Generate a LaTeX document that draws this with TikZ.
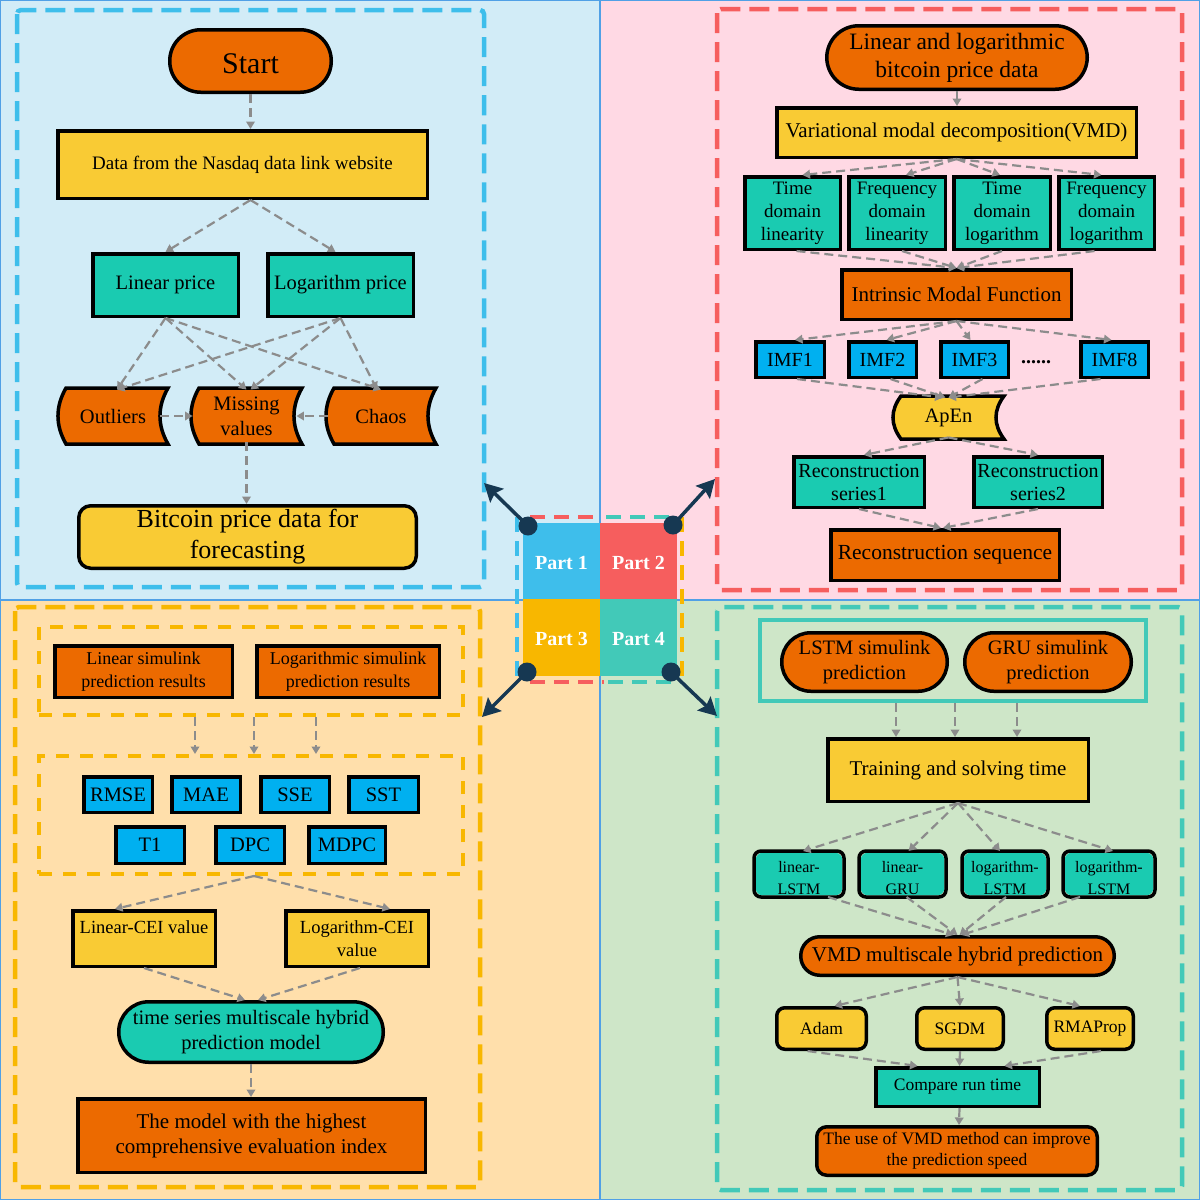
\documentclass[tikz,border=0pt]{standalone}
\usepackage{fontspec}
\setmainfont{Liberation Serif}
\usetikzlibrary{arrows.meta,calc}
\definecolor{bgA}{RGB}{210,236,247}
\definecolor{bgB}{RGB}{255,217,228}
\definecolor{bgC}{RGB}{255,223,171}
\definecolor{bgD}{RGB}{206,230,200}
\definecolor{dA}{RGB}{62,190,235}
\definecolor{dB}{RGB}{246,94,94}
\definecolor{dC}{RGB}{248,183,0}
\definecolor{dD}{RGB}{66,201,184}
\definecolor{cOr}{RGB}{236,106,0}
\definecolor{cYe}{RGB}{249,203,52}
\definecolor{cTe}{RGB}{26,203,177}
\definecolor{cBl}{RGB}{0,176,240}
\definecolor{cGr}{RGB}{140,140,140}
\definecolor{cNv}{RGB}{22,56,82}
\definecolor{cLn}{RGB}{80,160,230}
\newcommand{\fsz}[2]{\fontsize{#1}{#2}\selectfont}
\tikzset{
 bx/.style={draw=black, line width=3.5pt, inner sep=0pt, align=center},
 fO/.style={fill=cOr}, fY/.style={fill=cYe}, fT/.style={fill=cTe}, fB/.style={fill=cBl},
 arr/.style={draw=cGr, line width=2.2pt, dash pattern=on 9pt off 5pt, -{Triangle[width=8.5pt,length=7.5pt]}},
 oframe/.style={line width=4.5pt, dash pattern=on 20pt off 9pt, rounded corners=4pt},
 iframe/.style={draw=dC, line width=4pt, dash pattern=on 13pt off 11pt, inner sep=0pt},
 cframe/.style={line width=4pt, dash pattern=on 15pt off 9pt},
 navy/.style={draw=cNv, line width=3.5pt, -{Stealth[width=19pt,length=18pt,inset=3pt]}},
 dot/.style={circle, fill=cNv, minimum size=19pt, inner sep=0pt},
 part/.style={minimum size=77pt, inner sep=0pt, text=white, font=\bfseries\fsz{20}{24}, text height=17pt},
}
\newcommand{\mkbox}[7][]{\node[bx,#1,minimum width={(#5-#3-3.5)*1pt},minimum height={(#6-#4-3.5)*1pt}] (#2) at ({(#3+#5)/2},{(#4+#6)/2}) {#7};}
\newcommand{\mkstore}[7]{%
 \filldraw[draw=black,line width=3.5pt,fill=#1] (#3+8,#4) -- (#5,#4)
   .. controls (#5-10.7,{#4+(#6-#4)/3}) and (#5-10.7,{#4+2*(#6-#4)/3}) .. (#5,#6) -- (#3+8,#6)
   .. controls (#3-2.7,{#4+2*(#6-#4)/3}) and (#3-2.7,{#4+(#6-#4)/3}) .. (#3+8,#4) -- cycle;
 \node[inner sep=0pt,align=center,font=\fsz{20.5}{25},minimum width={(#5-#3-3.5)*1pt},minimum height={(#6-#4-3.5)*1pt}] (#2) at ({(#3+#5)/2},{(#4+#6)/2}) {#7};}
\begin{document}
\begin{tikzpicture}[x=1pt,y=-1pt]
\useasboundingbox (0,0) rectangle (1200,1200);
% backgrounds
\fill[bgA] (0,0) rectangle (600,600);
\fill[bgB] (600,0) rectangle (1200,600);
\fill[bgC] (0,600) rectangle (600,1200);
\fill[bgD] (600,600) rectangle (1200,1200);
\draw[cLn,line width=1.2pt] (0.6,0.6) rectangle (1199.4,1199.4);
\draw[cLn,line width=1.2pt] (600,0) -- (600,1200);
\draw[cLn,line width=1.2pt] (0,600) -- (1200,600);
% outer frames
\draw[oframe,draw=dA] (17,10) rectangle (484,587);
\draw[oframe,draw=dB] (717,9) rectangle (1182,590);
\draw[oframe,draw=dC] (15,607) rectangle (480,1187);
\draw[oframe,draw=dD] (717,607) rectangle (1182,1190);
% centre
\draw[cframe,dB] (530,517) -- (600,517);
\draw[cframe,dD] (606,517) -- (673,517);
\draw[cframe,dA] (517,517) -- (517,684);
\draw[cframe,dC] (682,517) -- (682,684);
\draw[cframe,dB] (530,682) -- (604,682);
\draw[cframe,dD] (608,682) -- (673,682);
\node[part,fill=dA] (p1) at (561.5,561.5) {Part 1};
\node[part,fill=dB] (p2) at (638.5,561.5) {Part 2};
\node[part,fill=dC] (p3) at (561.5,637.5) {Part 3};
\node[part,fill=dD] (p4) at (638.5,637.5) {Part 4};
\node[dot] (o1) at (528,526) {};
\node[dot] (o2) at (673,525) {};
\node[dot] (o3) at (527,672) {};
\node[dot] (o4) at (671,672) {};
\coordinate (t1) at (484,483);
\coordinate (t2) at (715,479);
\coordinate (t3) at (482,717);
\coordinate (t4) at (717,716);
\draw[navy] (o1.center) -- (t1);
\draw[navy] (o2.center) -- (t2);
\draw[navy] (o3.center) -- (t3);
\draw[navy] (o4.center) -- (t4);
% ---------- Part 1
\mkbox[fO,rounded corners=31pt,font=\fsz{30}{34},text height=26pt]{start}{168}{28}{333}{94}{Start}
\mkbox[fY,font=\fsz{19}{22}]{data}{56}{129}{429}{200}{Data from the Nasdaq data link website}
\mkbox[fT,font=\fsz{20.5}{24}]{lin}{91}{252}{240}{318}{Linear price}
\mkbox[fT,font=\fsz{20.5}{24}]{log}{266}{252}{415}{318}{Logarithm price}
\mkstore{cOr}{out}{58}{388}{168}{444}{Outliers}
\mkstore{cOr}{mis}{191}{388}{302}{444}{Missing\\values}
\mkstore{cOr}{cha}{326}{388}{436}{444}{Chaos}
\mkbox[fY,rounded corners=12pt,font=\fsz{26}{31}]{btc}{77}{504}{418}{570}{Bitcoin price data for\\forecasting}
\draw[arr] (start.south) -- (start.south |- data.north);
\draw[arr] ($(data.south)+(8,0)$) -- (lin.north);
\draw[arr] ($(data.south)+(8,0)$) -- ($(log.north)+(-5,0)$);
\draw[arr] (lin.south) -- ($(out.north)+(4,0)$);
\draw[arr] (lin.south) -- (mis.north);
\draw[arr] (lin.south) -- (cha.north);
\draw[arr] (log.south) -- ($(out.north)+(4,0)$);
\draw[arr] (log.south) -- ($(mis.north)+(4,0)$);
\draw[arr] (log.south) -- ($(cha.north)+(-4,0)$);
\draw[arr] ($(out.east)+(-6,0)$) -- (mis.west);
\draw[arr] (cha.west) -- ($(mis.east)+(-4,0)$);
\draw[arr] (mis.south) -- (mis.south |- btc.north);
% ---------- Part 2
\mkbox[fO,rounded corners=32pt,font=\fsz{23.5}{28}]{lld}{825}{24}{1089}{91}{Linear and logarithmic\\bitcoin price data}
\mkbox[fY,font=\fsz{21}{24}]{vmd}{775}{106}{1138}{159}{Variational modal decomposition(VMD)}
\mkbox[fT,font=\fsz{19}{23}]{td1}{743}{175}{842}{251}{Time\\domain\\linearity}
\mkbox[fT,font=\fsz{19}{23}]{fd1}{847}{175}{947}{251}{Frequency\\domain\\linearity}
\mkbox[fT,font=\fsz{19}{23}]{td2}{952}{175}{1052}{251}{Time\\domain\\logarithm}
\mkbox[fT,font=\fsz{19}{23}]{fd2}{1057}{175}{1156}{251}{Frequency\\domain\\logarithm}
\mkbox[fO,font=\fsz{21}{24}]{imf}{840}{268}{1073}{321}{Intrinsic Modal Function}
\mkbox[fB,font=\fsz{20}{24}]{imf1}{754}{340}{826}{379}{IMF1}
\mkbox[fB,font=\fsz{20}{24}]{imf2}{847}{340}{918}{379}{IMF2}
\mkbox[fB,font=\fsz{20}{24}]{imf3}{939}{340}{1010}{379}{IMF3}
\mkbox[fB,font=\fsz{20}{24}]{imf8}{1079}{340}{1150}{379}{IMF8}
\node[font=\bfseries\fsz{20}{24},inner sep=0pt] (dots) at (1036,362) {......};
\mkstore{cYe}{apen}{893}{396}{1004}{439}{ApEn}
\mkbox[fT,font=\fsz{20}{23}]{rs1}{792}{455}{926}{509}{Reconstruction\\series1}
\mkbox[fT,font=\fsz{20}{23}]{rs2}{972}{455}{1104}{509}{Reconstruction\\series2}
\mkbox[fO,font=\fsz{21.5}{24}]{rseq}{829}{528}{1061}{582}{Reconstruction sequence}
\draw[arr] (lld.south) -- (lld.south |- vmd.north);
\draw[arr] (vmd.south) -- ($(td1.north)+(10,0)$);
\draw[arr] (vmd.south) -- ($(fd1.north)+(9,0)$);
\draw[arr] (vmd.south) -- ($(td2.north)+(-2,0)$);
\draw[arr] (vmd.south) -- ($(fd2.north)+(-5,0)$);
\draw[arr] ($(td1.south)+(4,0)$) -- (imf.north);
\draw[arr] ($(fd1.south)+(5,0)$) -- (imf.north);
\draw[arr] (td2.south) -- (imf.north);
\draw[arr] ($(fd2.south)+(-12,0)$) -- (imf.north);
\draw[arr] (imf.south) -- ($(imf1.north)+(5,0)$);
\draw[arr] (imf.south) -- ($(imf2.north)+(4,0)$);
\draw[arr] (imf.south) -- ($(imf3.north)+(-4,0)$);
\draw[arr] (imf.south) -- ($(imf8.north)+(-3,0)$);
\draw[arr] ($(imf1.south)+(7,0)$) -- ($(apen.north)+(-6,0)$);
\draw[arr] ($(imf2.south)+(8,0)$) -- ($(apen.north)+(-3,0)$);
\draw[arr] ($(imf3.south)+(8,0)$) -- (apen.north);
\draw[arr] ($(imf8.south)+(-14,0)$) -- (apen.north);
\draw[arr] (apen.south) -- ($(rs1.north)+(5,0)$);
\draw[arr] (apen.south) -- (rs2.north);
\draw[arr] (rs1.south) -- ($(rseq.north)+(-4,0)$);
\draw[arr] (rs2.south) -- ($(rseq.north)+(-2,0)$);
% ---------- Part 3
\node[iframe,minimum width=424pt,minimum height=88pt] (g1) at (251,671) {};
\node[iframe,minimum width=424pt,minimum height=118pt] (g2) at (251,815) {};
\mkbox[fO,font=\fsz{18}{23}]{lsp}{53}{644}{234}{699}{Linear simulink\\prediction results}
\mkbox[fO,font=\fsz{18}{23}]{gsp}{255}{644}{441}{699}{Logarithmic simulink\\prediction results}
\mkbox[fB,font=\fsz{20.5}{24}]{rmse}{82}{775}{154}{814}{RMSE}
\mkbox[fB,font=\fsz{20.5}{24}]{mae}{170}{775}{242}{814}{MAE}
\mkbox[fB,font=\fsz{20.5}{24}]{sse}{259}{775}{331}{814}{SSE}
\mkbox[fB,font=\fsz{20.5}{24}]{sst}{347}{775}{420}{814}{SST}
\mkbox[fB,font=\fsz{20.5}{24}]{tone}{114}{825}{186}{865}{T1}
\mkbox[fB,font=\fsz{20.5}{24}]{dpc}{214}{825}{286}{865}{DPC}
\mkbox[fB,font=\fsz{20.5}{24}]{mdpc}{307}{825}{387}{865}{MDPC}
\mkbox[fY,font=\fsz{18.5}{23}]{lcei}{71}{909}{217}{968}{Linear-CEI value\\\mbox{}}
\mkbox[fY,font=\fsz{18.5}{23}]{gcei}{284}{909}{430}{968}{Logarithm-CEI\\value}
\mkbox[fT,rounded corners=30pt,font=\fsz{20.5}{25}]{ts}{117}{1000}{385}{1064}{time series multiscale hybrid\\prediction model}
\mkbox[fO,font=\fsz{21}{25}]{best}{76}{1097}{427}{1174}{The model with the highest\\comprehensive evaluation index}
\draw[arr] ($(g1.south)+(-56,0)$) -- ($(g2.north)+(-56,0)$);
\draw[arr] ($(g1.south)+(3,0)$) -- ($(g2.north)+(3,0)$);
\draw[arr] ($(g1.south)+(65,0)$) -- ($(g2.north)+(65,0)$);
\draw[arr] ($(g2.south)+(3,0)$) -- ($(lcei.north)+(-29,0)$);
\draw[arr] ($(g2.south)+(3,0)$) -- ($(gcei.north)+(33,0)$);
\draw[arr] (lcei.south) -- ($(ts.north)+(-6,0)$);
\draw[arr] ($(gcei.south)+(3,0)$) -- ($(ts.north)+(7,0)$);
\draw[arr] (ts.south) -- (ts.south |- best.north);
% ---------- Part 4
\node[draw=dD,line width=4.5pt,inner sep=0pt,minimum width=386pt,minimum height=81pt] (grp) at (953,660.5) {};
\mkbox[fO,rounded corners=29pt,font=\fsz{20.5}{25}]{lstm}{780}{631}{949}{693}{LSTM simulink\\prediction}
\mkbox[fO,rounded corners=29pt,font=\fsz{20.5}{25}]{gru}{963}{631}{1133}{693}{GRU simulink\\prediction}
\mkbox[fY,font=\fsz{21}{24}]{tr}{826}{737}{1090}{803}{Training and solving time}
\mkbox[fT,draw=none,rounded corners=7pt,font=\fsz{16}{22},text height=41pt,text depth=0pt]{ba}{754}{851}{844}{897}{linear-\\LSTM}
\mkbox[fT,draw=none,rounded corners=7pt,font=\fsz{16}{22},text height=41pt,text depth=0pt]{bb}{859}{851}{946}{897}{linear-\\GRU}
\mkbox[fT,draw=none,rounded corners=7pt,font=\fsz{16}{22},text height=41pt,text depth=0pt]{bc}{962}{851}{1048}{897}{logarithm-\\LSTM}
\mkbox[fT,draw=none,rounded corners=7pt,font=\fsz{16}{22},text height=41pt,text depth=0pt]{bd}{1063}{851}{1155}{897}{logarithm-\\LSTM}
\foreach \n in {ba,bb,bc,bd}{\draw[line width=3.5pt,rounded corners=7pt] (\n.south west) rectangle (\n.north east);}
\mkbox[fO,rounded corners=19pt,font=\fsz{21}{24}]{vh}{799}{935}{1116}{977}{VMD multiscale hybrid prediction}
\mkbox[fY,rounded corners=8pt,font=\fsz{17.5}{22}]{adam}{775}{1006}{868}{1051}{Adam}
\mkbox[fY,rounded corners=8pt,font=\fsz{17.5}{22}]{sgdm}{915}{1006}{1005}{1051}{SGDM}
\mkbox[fY,rounded corners=8pt,font=\fsz{17.5}{22}]{rma}{1045}{1006}{1135}{1051}{RMAProp}
\mkbox[fT,font=\fsz{17.5}{22}]{cmp}{874}{1066}{1041}{1108}{Compare run time}
\mkbox[fO,rounded corners=10pt,font=\fsz{17.5}{21}]{use}{815}{1125}{1099}{1177}{The use of VMD method can improve\\the prediction speed}
\draw[arr] ($(grp.south)+(-57,0)$) -- ($(tr.north)+(-62,0)$);
\draw[arr] ($(grp.south)+(2,0)$) -- ($(tr.north)+(-3,0)$);
\draw[arr] ($(grp.south)+(64,0)$) -- ($(tr.north)+(59,0)$);
\draw[arr] (tr.south) -- ($(ba.north)+(4,0)$);
\draw[arr] (tr.south) -- ($(bb.north)+(6,0)$);
\draw[arr] (tr.south) -- ($(bc.north)+(-5,0)$);
\draw[arr] (tr.south) -- ($(bd.north)+(4,0)$);
\draw[arr] ($(ba.south)+(29,0)$) -- ($(vh.north)+(-4,0)$);
\draw[arr] ($(bb.south)+(4,0)$) -- (vh.north);
\draw[arr] ($(bc.south)+(1,0)$) -- ($(vh.north)+(2,0)$);
\draw[arr] ($(bd.south)+(-29,0)$) -- ($(vh.north)+(4,0)$);
\draw[arr] (vh.south) -- ($(adam.north)+(13,0)$);
\draw[arr] (vh.south) -- (sgdm.north);
\draw[arr] (vh.south) -- ($(rma.north)+(-10,0)$);
\draw[arr] ($(adam.south)+(-14,0)$) -- ($(cmp.north)+(-40,0)$);
\draw[arr] (sgdm.south) -- ($(cmp.north)+(2,0)$);
\draw[arr] ($(rma.south)+(11,0)$) -- ($(cmp.north)+(47,0)$);
\draw[arr] ($(cmp.south)+(2,0)$) -- ($(use.north)+(2,0)$);
\end{tikzpicture}
\end{document}
